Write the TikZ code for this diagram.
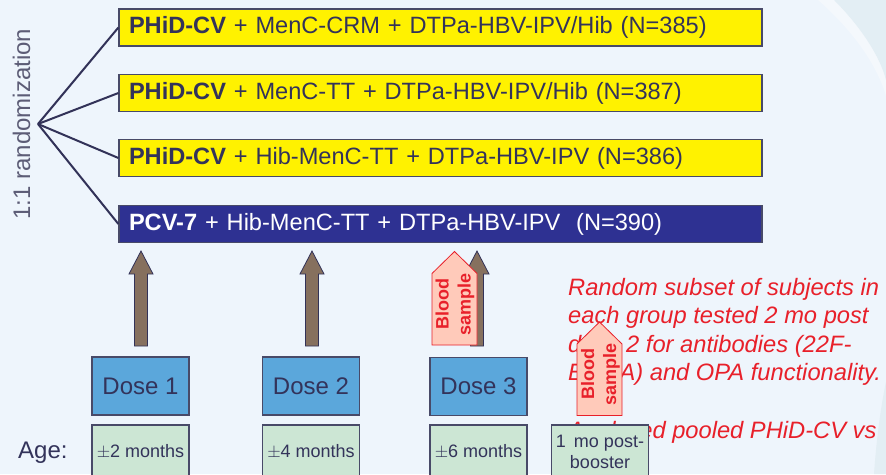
\documentclass[tikz,border=0pt]{standalone}
\usepackage{fontspec}
\setmainfont{Liberation Sans}
\definecolor{bgcol}{RGB}{238,245,252}
\definecolor{bgdark}{RGB}{227,238,244}
\definecolor{bglight}{RGB}{244,248,252}
\definecolor{navytext}{RGB}{51,51,90}
\definecolor{boxborder}{RGB}{72,74,104}
\definecolor{yellowbox}{RGB}{255,242,0}
\definecolor{navybox}{RGB}{46,49,146}
\definecolor{linecol}{RGB}{50,50,88}
\definecolor{graytext}{RGB}{92,92,118}
\definecolor{brownfill}{RGB}{134,112,94}
\definecolor{redtext}{RGB}{232,32,42}
\definecolor{bloodfill}{RGB}{255,202,186}
\definecolor{dosefill}{RGB}{91,167,219}
\definecolor{agefill}{RGB}{204,230,212}
\tikzset{
  armbox/.style={draw=boxborder, line width=1.2pt, minimum height=37pt,
    text width=623pt, align=left, inner xsep=10pt, inner ysep=0pt,
    font=\fontsize{23.6}{28.3}\selectfont, text=navytext},
  yarm/.style={armbox, fill=yellowbox},
  narm/.style={armbox, fill=navybox, text=white},
  randline/.style={draw=linecol, line width=2pt},
  dosebox/.style={draw=boxborder, line width=1.2pt, fill=dosefill,
    minimum width=97pt, minimum height=58pt, inner sep=0pt,
    font=\fontsize{24}{28.8}\selectfont, text=navytext},
  agebox/.style={draw=boxborder, line width=1.2pt, fill=agefill,
    minimum width=97pt, minimum height=53pt, inner sep=0pt, align=center,
    font=\fontsize{18}{21}\selectfont, text=navytext},
  redline/.style={anchor=base west, inner sep=0pt, text=redtext,
    font=\fontsize{23.7}{28.5}\selectfont\itshape},
  bloodtext/.style={rotate=90, align=center, inner sep=0pt, text=redtext,
    font=\fontsize{18}{22}\selectfont\bfseries},
  uparrow/.pic={
    \draw[draw=linecol, line width=0.8pt, fill=brownfill, line join=miter]
      (0,0) -- (12,23) -- (6.5,23) -- (6.5,95) -- (-6.5,95) -- (-6.5,23) -- (-12,23) -- cycle;
  },
  bloodarrow/.pic={
    \draw[draw=redtext, line width=0.8pt, fill=bloodfill]
      (0,0) -- (22.5,22) -- (22.5,93.5) -- (-22.5,93.5) -- (-22.5,22) -- cycle;
  }
}
\begin{document}
\begin{tikzpicture}[x=1pt,y=-1pt]
\useasboundingbox (0,0) rectangle (886,474);
\clip (0,0) rectangle (886,474);
% background
\fill[bgcol] (0,0) rectangle (886,474);
\fill[bglight] (818,0) .. controls (850,28) and (876,62) .. (886,96) -- (886,0) -- cycle;
\fill[bgdark] (834,0) .. controls (860,26) and (880,56) .. (886,80) -- (886,0) -- cycle;
\fill[bgdark] (886,382) .. controls (880,410) and (876,445) .. (874,474) -- (886,474) -- cycle;

% randomization label
\node[rotate=90, anchor=base, inner sep=0pt, text=graytext,
  font=\fontsize{24}{28.8}\selectfont] (randlabel) at (30,124) {1:1 randomization};
\coordinate (rand) at (38,124);

% arm boxes
\node[yarm] (arm1) at (440.5,27.5) {\textbf{PHiD-CV} + MenC-CRM + DTPa-HBV-IPV/Hib (N=385)};
\node[yarm] (arm2) at (440.5,93) {\textbf{PHiD-CV} + MenC-TT + DTPa-HBV-IPV/Hib (N=387)};
\node[yarm] (arm3) at (440.5,158) {\textbf{PHiD-CV} + Hib-MenC-TT + DTPa-HBV-IPV (N=386)};
\node[narm] (arm4) at (440.5,224) {\textbf{PCV-7} + Hib-MenC-TT + DTPa-HBV-IPV\ \ (N=390)};

\draw[randline] (rand) -- (arm1.west);
\draw[randline] (rand) -- (arm2.west);
\draw[randline] (rand) -- (arm3.west);
\draw[randline] (rand) -- (arm4.west);

% red explanatory text (partly hidden behind the blood-sample arrow and the booster box, as in the original)
\node[redline] (red1) at (568,295) {Random subset of subjects in};
\node[redline] (red2) at (568,323.5) {each group tested 2 mo post};
\node[redline] (red3) at (568,352) {dose 2 for antibodies (22F-};
\node[redline] (red4) at (568,380.5) {ELISA) and OPA functionality.};
\node[redline] (red5) at (568,438) {Analysed pooled PHiD-CV vs};

% vaccination arrows
\pic at (141,251) {uparrow};
\pic at (312,251) {uparrow};
\pic at (477,251) {uparrow};

% blood sample 1
\pic at (454.5,251.5) {bloodarrow};
\node[bloodtext] (blood1) at (455,304) {Blood\\sample};

% dose boxes
\node[dosebox] (dose1) at (140.5,386) {Dose 1};
\node[dosebox] (dose2) at (311,386) {Dose 2};
\node[dosebox] (dose3) at (478.5,386.5) {Dose 3};

% age
\node[anchor=base west, inner sep=0pt, text=navytext,
  font=\fontsize{24}{28.8}\selectfont] (agelabel) at (18,458) {Age:};
\node[agebox] (age1) at (140.5,451.5) {$\pm$2 months};
\node[agebox] (age2) at (311,451.5) {$\pm$4 months};
\node[agebox] (age3) at (478.5,451.5) {$\pm$6 months};

% blood sample 2
\pic at (599.5,322) {bloodarrow};
\node[bloodtext] (blood2) at (600.5,374) {Blood\\sample};

\node[agebox] (age4) at (600,451.5) {1\ \,mo post-\\booster};
\end{tikzpicture}
\end{document}
